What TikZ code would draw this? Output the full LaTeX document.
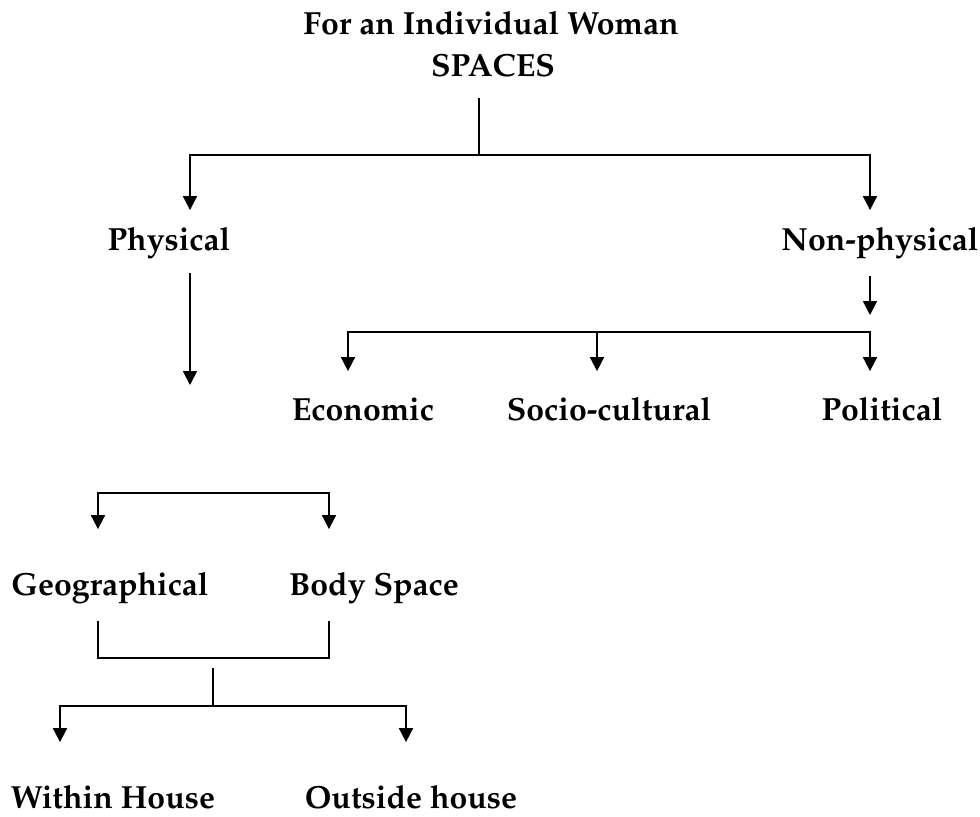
\documentclass[tikz,border=0pt]{standalone}
\usepackage[T1]{fontenc}
\usepackage{mathpazo}
\usetikzlibrary{arrows.meta}

\tikzset{
  txt/.style={font=\fontsize{16}{20}\selectfont\bfseries,inner sep=0pt,
    text height=11.5pt,text depth=4pt,anchor=base},
}

\begin{document}
\begin{tikzpicture}[x=0.5pt,y=-0.5pt,line width=0.9pt,>={Triangle[width=7pt,length=7pt]}]
\useasboundingbox (0,0) rectangle (980,816);

% title
\node[txt] (title) at (491,34) {For an Individual Woman};
\node[txt] (spaces) at (493,76) {SPACES};

% first level
\node[txt] (phys) at (169,250) {Physical};
\node[txt] (nonphys) at (880,250) {Non-physical};

\node[txt] (econ) at (363,420) {Economic};
\node[txt] (socio) at (609,420) {Socio-cultural};
\node[txt] (pol) at (882,420) {Political};

\node[txt] (geo) at (110,595) {Geographical};
\node[txt] (body) at (374,595) {Body Space};

\node[txt] (within) at (113,808) {Within House};
\node[txt] (outside) at (411,808) {Outside house};

% junctions and free ends
\coordinate (hub) at (479,155);
\coordinate (physend) at (190,385);
\coordinate (npend) at (870,315);
\coordinate (npbar) at (597,332);
\coordinate (physbar) at (213,493);
\coordinate (gjoin) at (213,658);
\coordinate (gstem) at (213,668);
\coordinate (hjoin) at (213,706);

\draw[shorten <=6.5pt] ([xshift=-7pt]spaces.south) -- (hub);
\draw[<->,shorten <=8pt,shorten >=8pt] ([xshift=10.5pt]phys.north) |- (hub) -| ([xshift=-5pt]nonphys.north);

\draw[->,shorten <=7pt] ([xshift=10.5pt]phys.south) -- (physend);
\draw[->,shorten <=8.5pt] ([xshift=-5pt]nonphys.south) -- (npend);

\draw[<->,shorten <=12.5pt,shorten >=12.5pt] ([xshift=-7.5pt]econ.north) |- (npbar) -| ([xshift=-6pt]pol.north);
\draw[->,shorten >=12.5pt] (npbar) -- ([xshift=-6pt]socio.north);

\draw[<->,shorten <=21pt,shorten >=21pt] ([xshift=-6pt]geo.north) |- (physbar) -| ([xshift=-22.5pt]body.north);

\draw[shorten <=8.5pt,shorten >=8.5pt] ([xshift=-6pt]geo.south) |- (gjoin) -| ([xshift=-22.5pt]body.south);
\draw (gstem) -- (hjoin);
\draw[<->,shorten <=21pt,shorten >=21pt] ([xshift=-26.5pt]within.north) |- (hjoin) -| ([xshift=-2.5pt]outside.north);
\end{tikzpicture}
\end{document}
